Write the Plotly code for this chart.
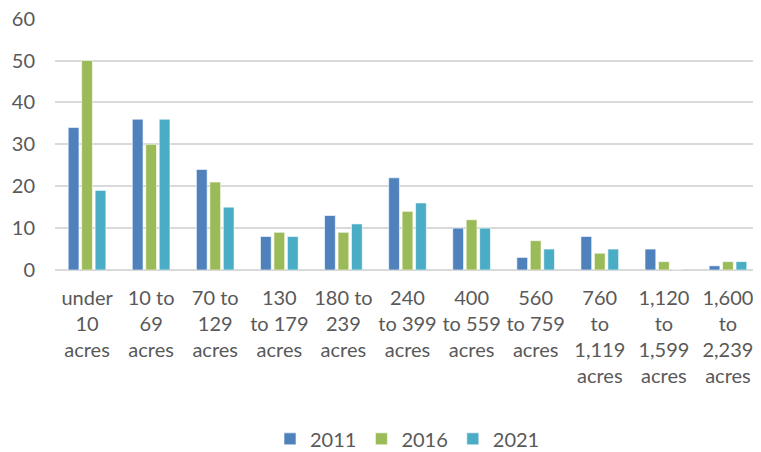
import plotly.graph_objects as go

categories = ["under<br>10<br>acres", "10 to<br>69<br>acres", "70 to<br>129<br>acres",
              "130<br>to 179<br>acres", "180 to<br>239<br>acres", "240<br>to 399<br>acres",
              "400<br>to 559<br>acres", "560<br>to 759<br>acres", "760<br>to<br>1,119<br>acres",
              "1,120<br>to<br>1,599<br>acres", "1,600<br>to<br>2,239<br>acres"]
v2011 = [34, 36, 24, 8, 13, 22, 10, 3, 8, 5, 1]
v2016 = [50, 30, 21, 9, 9, 14, 12, 7, 4, 2, 2]
v2021 = [19, 36, 15, 8, 11, 16, 10, 5, 5, 0, 2]
series = [("2011", v2011, "#4F81BD"), ("2016", v2016, "#9BBB59"), ("2021", v2021, "#4BACC6")]

fig = go.Figure()
for name, vals, col in series:
    fig.add_trace(go.Bar(name=name, x=categories, y=vals, marker_color=col,
                         marker_line_color="rgba(255,255,255,0.6)", marker_line_width=1))

font = dict(family="Lato, Carlito, Calibri, sans-serif", size=20, color="#595959")
fig.update_layout(
    width=753, height=444, margin=dict(l=47, r=1, t=10, b=182, autoexpand=False),
    paper_bgcolor="white", plot_bgcolor="white",
    barmode="group", bargap=0.37, bargroupgap=0.2,
    font=font,
    legend=dict(orientation="h", x=0.5, xanchor="center", y=-0.67, yanchor="middle",
                font=font, itemwidth=30, traceorder="normal"),
    xaxis=dict(showgrid=False, showline=False, ticks="", tickfont=font, tickangle=0,
               automargin=False, ticklabelstandoff=14),
    yaxis=dict(range=[0, 60.15], tickvals=[0, 10, 20, 30, 40, 50, 60], showgrid=True,
               gridcolor="#d9d9d9", gridwidth=1.5,
               zeroline=True, zerolinecolor="#d9d9d9", zerolinewidth=1.5,
               tickfont=font, ticklabelstandoff=19, automargin=False,
               ticklabeloverflow="allow"),
)
fig.write_html("out.html")
